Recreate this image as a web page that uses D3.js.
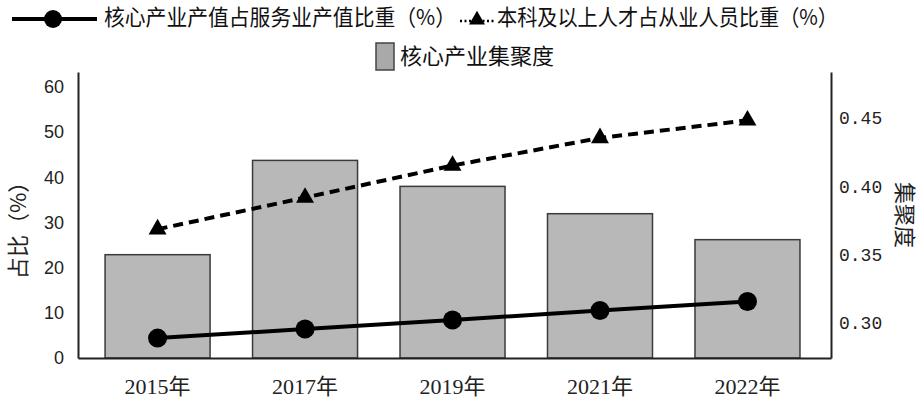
<!DOCTYPE html>
<html>
<head>
<meta charset="utf-8">
<script src="https://cdn.jsdelivr.net/npm/d3@7"></script>
<style>
  html, body { margin: 0; padding: 0; background: #fff; }
  svg { display: block; }
</style>
</head>
<body>
<div id="chart"></div>
<script>
// data
const years = ["2015年", "2017年", "2019年", "2021年", "2022年"];
const outputShare = [4.4, 6.4, 8.4, 10.5, 12.5];      // 核心产业产值占服务业产值比重（%）
const talentShare = [28.5, 35.5, 42.6, 48.7, 52.6];   // 本科及以上人才占从业人员比重（%）
const agglomeration = [0.350, 0.419, 0.400, 0.380, 0.361]; // 核心产业集聚度
const leftTicks = [0, 10, 20, 30, 40, 50, 60];
const rightTicks = [0.30, 0.35, 0.40, 0.45];

const width = 924;
const height = 401;
const cjk = "'Noto Sans CJK SC', 'Noto Sans', sans-serif";

// plot area
const plotLeft = 78, plotRight = 831, plotTop = 72, plotBottom = 358;

const svg = d3.select("#chart")
  .append("svg")
  .attr("width", width)
  .attr("height", height)
  .attr("viewBox", [0, 0, width, height]);

// scales
const x = d3.scaleBand()
  .domain(years)
  .range([plotLeft, plotRight])
  .paddingInner(0.288)
  .paddingOuter(0.197)
  .align(0.466);

const yL = d3.scaleLinear().domain([0, 63.3]).range([plotBottom, plotTop]);
const yR = d3.scaleLinear().domain([0.2744, 0.4837]).range([plotBottom, plotTop]);

const cx = d => x(d) + x.bandwidth() / 2;

// bars
svg.append("g")
  .selectAll("rect")
  .data(agglomeration)
  .join("rect")
  .attr("x", (d, i) => x(years[i]))
  .attr("y", d => yR(d))
  .attr("width", x.bandwidth())
  .attr("height", d => plotBottom - yR(d))
  .attr("fill", "#b8b8b8")
  .attr("stroke", "#3a3a3a")
  .attr("stroke-width", 1.5);

// axes
const axisL = svg.append("g")
  .attr("transform", `translate(${plotLeft},0)`)
  .call(d3.axisLeft(yL).tickValues(leftTicks).tickSize(0).tickPadding(14));

const axisR = svg.append("g")
  .attr("transform", `translate(${plotRight},0)`)
  .call(d3.axisRight(yR).tickValues(rightTicks).tickSize(0).tickPadding(8).tickFormat(d3.format(".2f")));

const axisB = svg.append("g")
  .attr("transform", `translate(0,${plotBottom})`)
  .call(d3.axisBottom(x).tickSize(0).tickPadding(20));

[axisL, axisR, axisB].forEach(a => {
  a.select(".domain").attr("stroke", "#222").attr("stroke-width", 2);
  a.selectAll("text").attr("fill", "#222");
});

axisL.selectAll("text")
  .attr("font-family", "'Liberation Sans', Arial, sans-serif")
  .attr("font-size", 18);

axisR.selectAll("text")
  .attr("font-family", "'Liberation Mono', 'DejaVu Sans Mono', monospace")
  .attr("font-size", 18);

axisB.selectAll("text")
  .attr("font-family", "'Liberation Serif', " + cjk)
  .attr("font-size", 22);

// axis titles
svg.append("text")
  .attr("transform", `translate(20,225) rotate(-90)`)
  .attr("text-anchor", "middle")
  .attr("dominant-baseline", "middle")
  .attr("font-family", cjk)
  .attr("font-size", 22)
  .attr("fill", "#222")
  .text("占比（%）");

svg.append("text")
  .attr("transform", `translate(903,215) rotate(90)`)
  .attr("text-anchor", "middle")
  .attr("dominant-baseline", "middle")
  .attr("font-family", cjk)
  .attr("font-size", 22)
  .attr("fill", "#222")
  .text("集聚度");

// lines
const lineL = d3.line()
  .x((d, i) => cx(years[i]))
  .y(d => yL(d));

svg.append("path")
  .datum(talentShare)
  .attr("d", lineL)
  .attr("fill", "none")
  .attr("stroke", "#000")
  .attr("stroke-width", 4)
  .attr("stroke-dasharray", "10,6");

svg.append("path")
  .datum(outputShare)
  .attr("d", lineL)
  .attr("fill", "none")
  .attr("stroke", "#000")
  .attr("stroke-width", 4);

const triangle = d3.symbol().type(d3.symbolTriangle).size(140);

svg.append("g")
  .selectAll("path")
  .data(talentShare)
  .join("path")
  .attr("transform", (d, i) => `translate(${cx(years[i])},${yL(d)})`)
  .attr("d", triangle)
  .attr("fill", "#000");

svg.append("g")
  .selectAll("circle")
  .data(outputShare)
  .join("circle")
  .attr("cx", (d, i) => cx(years[i]))
  .attr("cy", d => yL(d))
  .attr("r", 9.5)
  .attr("fill", "#000");

// legend
const legend = svg.append("g")
  .attr("font-family", cjk)
  .attr("font-size", 22)
  .attr("fill", "#111");

legend.append("line")
  .attr("x1", 12).attr("x2", 97)
  .attr("y1", 19).attr("y2", 19)
  .attr("stroke", "#000").attr("stroke-width", 4);
legend.append("circle")
  .attr("cx", 53).attr("cy", 19).attr("r", 9)
  .attr("fill", "#000");
legend.append("text")
  .attr("x", 104).attr("y", 19)
  .attr("dominant-baseline", "middle")
  .attr("textLength", 352)
  .attr("lengthAdjust", "spacingAndGlyphs")
  .text("核心产业产值占服务业产值比重（%）");

legend.append("line")
  .attr("x1", 460).attr("x2", 495)
  .attr("y1", 21).attr("y2", 21)
  .attr("stroke", "#000").attr("stroke-width", 2.5)
  .attr("stroke-dasharray", "2,2.5");
legend.append("path")
  .attr("transform", "translate(477,20)")
  .attr("d", d3.symbol().type(d3.symbolTriangle).size(110))
  .attr("fill", "#000");
legend.append("text")
  .attr("x", 497).attr("y", 19)
  .attr("dominant-baseline", "middle")
  .attr("textLength", 341)
  .attr("lengthAdjust", "spacingAndGlyphs")
  .text("本科及以上人才占从业人员比重（%）");

legend.append("rect")
  .attr("x", 376).attr("y", 43)
  .attr("width", 18).attr("height", 27)
  .attr("fill", "#a9a9a9")
  .attr("stroke", "#444")
  .attr("stroke-width", 1.5);
legend.append("text")
  .attr("x", 400).attr("y", 58)
  .attr("dominant-baseline", "middle")
  .text("核心产业集聚度");
</script>
</body>
</html>
